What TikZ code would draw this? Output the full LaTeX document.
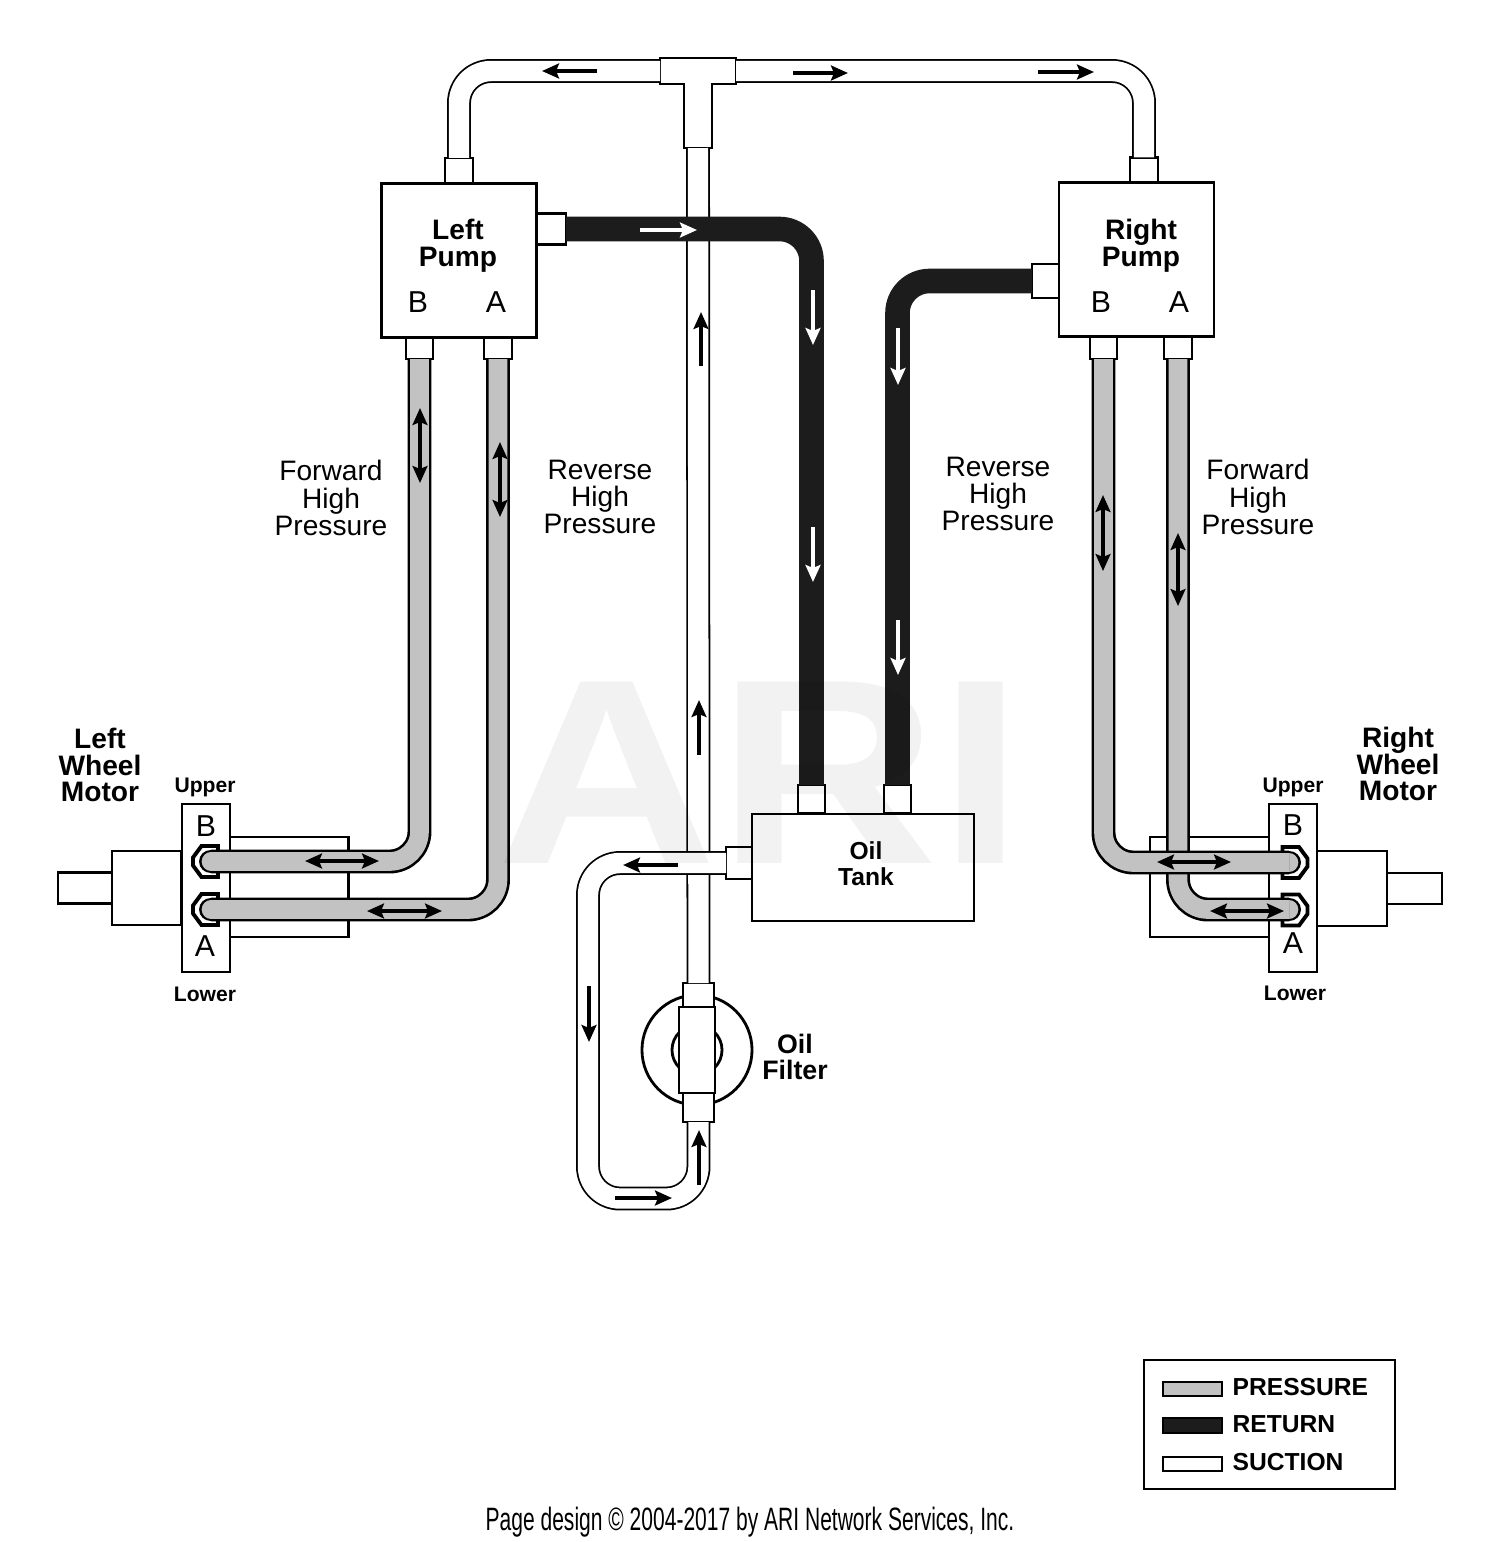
\documentclass[tikz,border=0pt]{standalone}
\usepackage{fontspec}
\setmainfont{Liberation Sans}
\newfontfamily\footfont[FakeStretch=0.65]{Liberation Sans}
\usetikzlibrary{arrows.meta}

\definecolor{pressgray}{HTML}{C2C2C2}
\definecolor{returnblack}{HTML}{1C1C1C}

\newcommand{\hexfitting}[2]{\draw[hexline, shift={(#1,#2)}] (-12.5,-4) -- (-4,-15.5) -- (12.5,-15.5) -- (12.5,15.5) -- (-4,15.5) -- (-12.5,4) -- cycle;}
\newcommand{\hexfittingr}[2]{\draw[hexline, shift={(#1,#2)}] (12.5,-4) -- (4,-15.5) -- (-12.5,-15.5) -- (-12.5,15.5) -- (4,15.5) -- (12.5,4) -- cycle;}

\begin{document}
\begin{tikzpicture}[x=0.01cm, y=-0.01cm,
    wh/.style 2 args={minimum width=#1cm, minimum height=#2cm},
    box/.style={draw, fill=white, line width=0.8pt, inner sep=0pt, outer sep=0pt},
    hexline/.style={draw, fill=white, line width=1.1pt},
    suctionpipe/.style={draw=black, double=white, line width=0.5pt, double distance=5.8pt, rounded corners=0.32cm},
    pressurepipe/.style={draw=black, double=pressgray, line width=0.75pt, double distance=5.3pt, rounded corners=0.3cm},
    returnpipe/.style={draw=returnblack, line width=7pt, rounded corners=0.32cm},
    flowarrow/.style={line width=1.05pt, -{Stealth[length=4.8pt, width=4.2pt, inset=0.8pt]}},
    bothways/.style={line width=0.95pt, {Stealth[length=4.8pt, width=4.2pt, inset=0.8pt]}-{Stealth[length=4.8pt, width=4.2pt, inset=0.8pt]}},
    lbl/.style={align=center, inner sep=0pt, font=\fontsize{8}{7.7}\selectfont},
    boldlbl/.style={align=center, inner sep=0pt, font=\bfseries\fontsize{8}{7.65}\selectfont},
    port/.style={inner sep=0pt, font=\fontsize{8.6}{9}\selectfont},
    endlbl/.style={inner sep=0pt, font=\bfseries\fontsize{6}{7}\selectfont},
    keylbl/.style={anchor=west, inner sep=0pt, font=\bfseries\fontsize{7}{8}\selectfont},
    swatch/.style={draw=black, line width=0.5pt, inner sep=0pt, outer sep=0pt, minimum width=0.59cm, minimum height=0.145cm}]
\useasboundingbox (0,0) rectangle (1500,1542);

% Pumps and their nozzles
\node[box, wh={1.55}{1.54}] (lpump) at (459,260.5) {};
\node[box, wh={1.55}{1.54}] (rpump) at (1136.5,259.5) {};
\node[box, wh={0.28}{0.25}] (ltop) at (459,170.5) {};
\node[box, wh={0.28}{0.25}] (rtop) at (1144,170) {};
\node[box, wh={0.29}{0.31}] (lret) at (551.5,229) {};
\node[box, wh={0.27}{0.34}] (rret) at (1045.5,281) {};
\node[box, wh={0.27}{0.21}] (lpb) at (419.5,348.5) {};
\node[box, wh={0.28}{0.21}] (lpa) at (498,348.5) {};
\node[box, wh={0.27}{0.22}] (rpb) at (1103.5,348) {};
\node[box, wh={0.28}{0.22}] (rpa) at (1178,348) {};

% Oil tank
\node[box, wh={2.22}{1.07}] (tank) at (863,867.5) {};
\node[box, wh={0.27}{0.28}] (tankl) at (811.5,799) {};
\node[box, wh={0.27}{0.28}] (tankr) at (897.5,799) {};
\node[box, wh={0.26}{0.32}] (tanks) at (739,863) {};

% Oil filter
\node[box, circle, minimum size=1.1cm] (fouter) at (697,1050) {};
\node[box, circle, minimum size=0.5cm] (finner) at (697,1050) {};
\node[box, wh={0.31}{0.24}] (ftop) at (698.5,995) {};
\node[box, wh={0.31}{0.29}] (fbot) at (698.5,1107.5) {};
\node[box, wh={0.36}{0.86}] (fbody) at (697,1050) {};

% Left wheel motor
\node[box, wh={0.54}{0.31}] (lshaft) at (85,888) {};
\node[box, wh={0.69}{0.74}] (lbody) at (146.5,888) {};
\node[box, wh={1.19}{1.00}] (lrear) at (289,887) {};
\node[box, wh={0.48}{1.68}] (lflange) at (206,888) {};
\hexfitting{205.5}{861.5}
\hexfitting{205.5}{909.5}

% Right wheel motor
\node[box, wh={0.55}{0.31}] (rshaft) at (1414.5,888.5) {};
\node[box, wh={0.70}{0.75}] (rbody) at (1352,888.5) {};
\node[box, wh={1.19}{1.00}] (rrear) at (1209.5,887) {};
\node[box, wh={0.48}{1.68}] (rflange) at (1293,888) {};
\hexfittingr{1295}{862.5}
\hexfittingr{1295}{910}

% Tee on top of the suction line
\draw[box] (660,58) -- (736,58) -- (736,84) -- (712,84) -- (712,148) -- (684,148) -- (684,84) -- (660,84) -- cycle;
\coordinate (teew) at (660,71);
\coordinate (teee) at (736,71);
\coordinate (tees) at (698,148);

% Suction lines
\draw[suctionpipe] (tees) -- (ftop.north);
\draw[suctionpipe] (ltop.north) |- (teew);
\draw[suctionpipe] (rtop.north) |- (teee);
\coordinate (loopa) at (588,863);
\coordinate (loopb) at (588,1198.5);
\coordinate (loopc) at (698.5,1198.5);
\draw[suctionpipe] (tanks.west) -- (loopa) -- (loopb) -- (loopc) -- (fbot.south);

% Return lines
\draw[returnpipe] (lret.east) -| (tankl.north);
\draw[returnpipe] (rret.west) -| (tankr.north);

% Pressure lines, left
\coordinate (ltipb) at (211,861.5);
\coordinate (ltipa) at (211,909.5);
\draw[pressurepipe, line cap=round] (ltipb) -- ++(20,0);
\draw[pressurepipe, line cap=round] (ltipa) -- ++(20,0);
\draw[pressurepipe] (lpa.south) |- (ltipa);
\draw[pressurepipe] (lpb.south) |- (ltipb);

% Pressure lines, right
\coordinate (rtipb) at (1289,862.5);
\coordinate (rtipa) at (1289,909.5);
\draw[pressurepipe, line cap=round] (rtipa) -- ++(-20,0);
\draw[pressurepipe] (rpa.south) |- (rtipa);
\draw[pressurepipe, line cap=round] (rtipb) -- ++(-20,0);
\draw[pressurepipe] (rpb.south) |- (rtipb);

% Flow arrows
\draw[flowarrow] (597,71) -- (542,71);
\draw[flowarrow] (793,73) -- (848,73);
\draw[flowarrow] (1038,72) -- (1094,72);
\draw[flowarrow] (701,366) -- (701,312);
\draw[flowarrow] (699,755) -- (699,700);
\draw[flowarrow] (678,865) -- (623,865);
\draw[flowarrow] (589,986) -- (589,1042);
\draw[flowarrow] (615,1198) -- (672,1198);
\draw[flowarrow] (699,1185) -- (699,1130);
\draw[flowarrow, white] (640,230) -- (697,230);
\draw[flowarrow, white] (813,290) -- (813,345);
\draw[flowarrow, white] (813,527) -- (813,582);
\draw[flowarrow, white] (898,328) -- (898,385);
\draw[flowarrow, white] (898,620) -- (898,675);
\draw[bothways] (420,408) -- (420,483);
\draw[bothways] (500,442) -- (500,517);
\draw[bothways] (305,861) -- (379,861);
\draw[bothways] (367,911) -- (442,911);
\draw[bothways] (1103,495) -- (1103,571);
\draw[bothways] (1178,533) -- (1178,606);
\draw[bothways] (1157,862) -- (1231,862);
\draw[bothways] (1210,911) -- (1284,911);

% Labels
\node[boldlbl] (lpumplbl) at (458,246) {Left\\Pump};
\node[boldlbl] (rpumplbl) at (1141,246) {Right\\Pump};
\node[port] (lpumpb) at (418,302) {B};
\node[port] (lpumpa) at (496,302) {A};
\node[port] (rpumpb) at (1101,302) {B};
\node[port] (rpumpa) at (1179,302) {A};
\node[lbl] (lfwd) at (331,498) {Forward\\High\\Pressure};
\node[lbl] (lrev) at (600,497) {Reverse\\High\\Pressure};
\node[lbl] (rrev) at (998,494) {Reverse\\High\\Pressure};
\node[lbl] (rfwd) at (1258,497) {Forward\\High\\Pressure};
\node[boldlbl] (lmotorlbl) at (100,765) {Left\\Wheel\\Motor};
\node[boldlbl] (rmotorlbl) at (1398,764) {Right\\Wheel\\Motor};
\node[endlbl] (lupper) at (205,787) {Upper};
\node[endlbl] (llower) at (205,994) {Lower};
\node[endlbl] (rupper) at (1293,787) {Upper};
\node[endlbl] (rlower) at (1295,993) {Lower};
\node[port] (lmotorb) at (206,826) {B};
\node[port] (lmotora) at (205,946) {A};
\node[port] (rmotorb) at (1293,825) {B};
\node[port] (rmotora) at (1293,943) {A};
\node[align=center, inner sep=0pt, font=\bfseries\fontsize{7}{7.4}\selectfont] (tanklbl) at (866,864) {Oil\\Tank};
\node[align=center, inner sep=0pt, font=\bfseries\fontsize{7.6}{7.4}\selectfont] (filterlbl) at (795,1057) {Oil\\Filter};

% Legend
\node[box, wh={2.51}{1.29}] (key) at (1269.5,1424.5) {};
\node[swatch, fill=pressgray] (keyp) at (1192.5,1389) {};
\node[swatch, fill=returnblack] (keyr) at (1192.5,1425.5) {};
\node[swatch, fill=white] (keys) at (1192.5,1464) {};
\node[keylbl] (keyptxt) at (1232,1387) {PRESSURE};
\node[keylbl] (keyrtxt) at (1232,1424) {RETURN};
\node[keylbl] (keystxt) at (1232,1462) {SUCTION};

% Footer
\node[inner sep=0pt, font=\footfont\fontsize{9.2}{11}\selectfont] (footer) at (750,1522) {Page design © 2004-2017 by ARI Network Services, Inc.};

% Watermark over everything
\node[inner sep=0pt, text=black, text opacity=0.05, xscale=1.16, transform shape, font=\bfseries\fontsize{75}{75}\selectfont] (mark) at (760,773) {ARI};
\end{tikzpicture}
\end{document}
